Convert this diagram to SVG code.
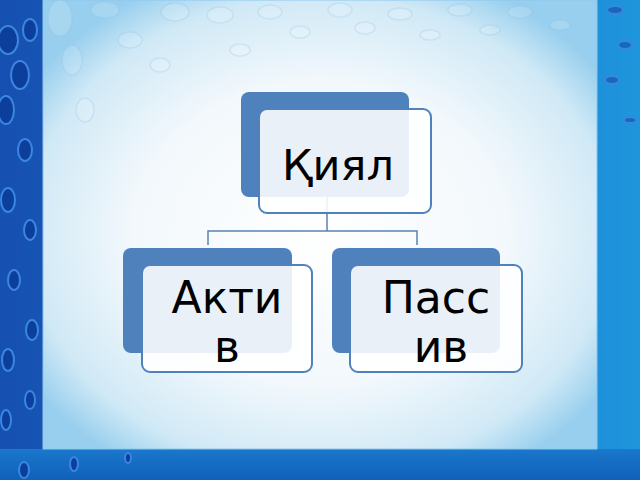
<svg xmlns="http://www.w3.org/2000/svg" width="640" height="480" viewBox="0 0 640 480">
<defs>
<linearGradient id="outer" x1="0" y1="0" x2="1" y2="0">
<stop offset="0" stop-color="#1650b0"/>
<stop offset="0.5" stop-color="#1a6cc8"/>
<stop offset="1" stop-color="#1e96dc"/>
</linearGradient>
<radialGradient id="panel" cx="0.5" cy="0.52" r="0.62">
<stop offset="0" stop-color="#ffffff"/>
<stop offset="0.55" stop-color="#f2f8fc"/>
<stop offset="0.85" stop-color="#d0e9f6"/>
<stop offset="1" stop-color="#98cfee"/>
</radialGradient>
<linearGradient id="bottom" x1="0" y1="0" x2="0" y2="1">
<stop offset="0" stop-color="#1a78cc"/>
<stop offset="1" stop-color="#1060b8"/>
</linearGradient>
<style>
.back{fill:#4f81bd;}
.front{fill:#ffffff;fill-opacity:0.88;stroke:#4f81bd;stroke-width:2;}
.lbl{font-family:"DejaVu Sans",sans-serif;font-size:44px;fill:#000000;text-anchor:middle;}
.conn{fill:none;stroke:#5a82b4;stroke-width:1.5;}
.bub{fill:#ffffff;fill-opacity:0.15;stroke:#8fc0e4;stroke-opacity:0.25;stroke-width:1.5;}
.dbub{fill:#0c3f9c;stroke:#3a86e0;stroke-width:2;}
</style>
</defs>
<rect x="0" y="0" width="640" height="480" fill="url(#outer)"/>
<rect x="0" y="449" width="640" height="31" fill="url(#bottom)"/>
<g>
<ellipse class="dbub" cx="8" cy="40" rx="10" ry="14"/>
<ellipse class="dbub" cx="30" cy="30" rx="7" ry="11"/>
<ellipse class="dbub" cx="20" cy="75" rx="9" ry="14"/>
<ellipse class="dbub" cx="6" cy="110" rx="8" ry="14"/>
<ellipse class="dbub" cx="25" cy="150" rx="7" ry="11"/>
<ellipse class="dbub" cx="8" cy="200" rx="7" ry="12"/>
<ellipse class="dbub" cx="30" cy="230" rx="6" ry="10"/>
<ellipse class="dbub" cx="14" cy="280" rx="6" ry="10"/>
<ellipse class="dbub" cx="32" cy="330" rx="6" ry="10"/>
<ellipse class="dbub" cx="8" cy="360" rx="6" ry="11"/>
<ellipse class="dbub" cx="30" cy="400" rx="5" ry="9"/>
<ellipse class="dbub" cx="6" cy="420" rx="5" ry="10"/>
<ellipse class="dbub" cx="24" cy="470" rx="5" ry="8"/>
<ellipse class="dbub" cx="74" cy="464" rx="4" ry="7"/>
<ellipse class="dbub" cx="128" cy="458" rx="3" ry="5"/>
<ellipse class="dbub" cx="615" cy="10" rx="8" ry="4" fill-opacity="0.5"/>
<ellipse class="dbub" cx="625" cy="45" rx="7" ry="4" fill-opacity="0.5"/>
<ellipse class="dbub" cx="612" cy="80" rx="7" ry="4" fill-opacity="0.5"/>
<ellipse class="dbub" cx="630" cy="120" rx="6" ry="3" fill-opacity="0.5"/>
</g>
<rect x="43" y="0" width="554" height="449" fill="url(#panel)" stroke="#8cc8ee" stroke-width="1"/>
<g>
<ellipse class="bub" cx="60" cy="18" rx="12" ry="18"/>
<ellipse class="bub" cx="105" cy="10" rx="14" ry="8"/>
<ellipse class="bub" cx="72" cy="60" rx="10" ry="15"/>
<ellipse class="bub" cx="130" cy="40" rx="12" ry="8"/>
<ellipse class="bub" cx="175" cy="12" rx="14" ry="9"/>
<ellipse class="bub" cx="220" cy="15" rx="13" ry="8"/>
<ellipse class="bub" cx="270" cy="12" rx="12" ry="7"/>
<ellipse class="bub" cx="340" cy="10" rx="12" ry="7"/>
<ellipse class="bub" cx="400" cy="14" rx="12" ry="6"/>
<ellipse class="bub" cx="460" cy="10" rx="12" ry="6"/>
<ellipse class="bub" cx="520" cy="12" rx="12" ry="6"/>
<ellipse class="bub" cx="560" cy="25" rx="10" ry="5"/>
<ellipse class="bub" cx="300" cy="32" rx="10" ry="6"/>
<ellipse class="bub" cx="365" cy="28" rx="10" ry="6"/>
<ellipse class="bub" cx="430" cy="35" rx="10" ry="5"/>
<ellipse class="bub" cx="490" cy="30" rx="10" ry="5"/>
<ellipse class="bub" cx="85" cy="110" rx="9" ry="12"/>
<ellipse class="bub" cx="160" cy="65" rx="10" ry="7"/>
<ellipse class="bub" cx="240" cy="50" rx="10" ry="6"/>
</g>
<g id="connectors">
<path class="conn" d="M327 197 V231 M208 245 V231 H417 V245"/>
</g>
<g id="node-top">
<rect class="back" x="241" y="92" width="168" height="105" rx="8"/>
<rect class="front" x="259" y="109" width="172" height="104" rx="8"/>
<text class="lbl" x="338" y="180" style="font-size:43px">Қиял</text>
</g>
<g id="node-left">
<rect class="back" x="123" y="248" width="169" height="105" rx="8"/>
<rect class="front" x="142" y="265" width="170" height="107" rx="8"/>
<text class="lbl" x="227" y="313">Акти</text>
<text class="lbl" x="227" y="362">в</text>
</g>
<g id="node-right">
<rect class="back" x="332" y="248" width="168" height="105" rx="8"/>
<rect class="front" x="350" y="265" width="172" height="107" rx="8"/>
<text class="lbl" x="436" y="313">Пасс</text>
<text class="lbl" x="441" y="362">ив</text>
</g>
</svg>
